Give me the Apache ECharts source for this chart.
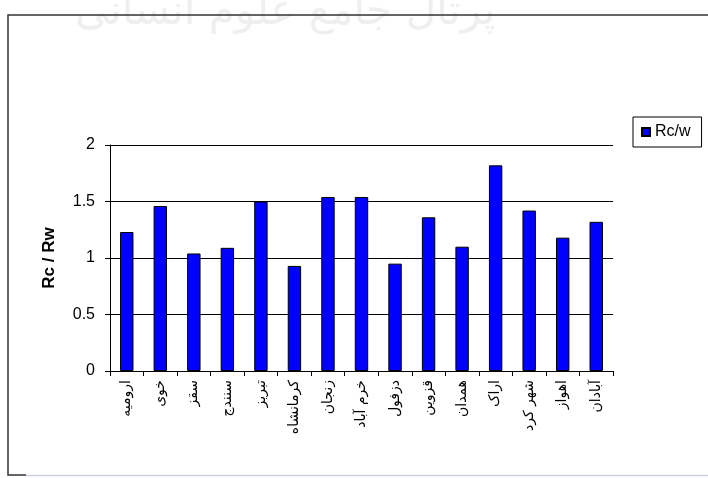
<!DOCTYPE html>
<html>
<head>
<meta charset="utf-8">
<title>Rc / Rw</title>
<script src="https://cdn.jsdelivr.net/npm/echarts@6.0.0/dist/echarts.min.js"></script>
<style>
  html, body { margin: 0; padding: 0; background: #fff; }
  #main { width: 708px; height: 478px; }
</style>
</head>
<body>
<div id="main"></div>
<script>
// شهرها
let cities = ["ارومیه", "خوی", "سقز", "سنندج", "تبریز", "کرمانشاه", "زنجان", "خرم آباد",
        "دزفول", "قزوین", "همدان", "اراک", "شهر کرد", "اهواز", "آبادان"];
// Rc/w
let ratios = [1.23, 1.46, 1.04, 1.09, 1.50, 0.93, 1.54, 1.54, 0.95, 1.36, 1.10, 1.82, 1.42, 1.18, 1.32];
let yMin = 0, yMax = 2, yStep = 0.5;

let option = {
        animation: false,
        backgroundColor: '#fff',
        grid: {
                left: 110,
                top: 145,
                right: 95,
                bottom: 107
        },
        legend: {
                data: ['Rc/w'],
                left: 633,
                top: 117,
                orient: 'vertical',
                icon: 'rect',
                itemWidth: 8,
                itemHeight: 8,
                itemGap: 4,
                padding: [7, 11, 7, 8],
                borderColor: '#000',
                borderWidth: 1,
                textStyle: {
                        color: '#000',
                        fontSize: 16,
                        fontFamily: 'Liberation Sans'
                }
        },
        // watermark of the scanned page + frame
        graphic: [{
                type: 'text',
                left: 75,
                top: -8,
                silent: true,
                style: {
                        text: 'پرتال جامع علوم انسانی',
                        fill: '#efefef',
                        font: '42px "DejaVu Sans"'
                }
        }, {
                type: 'polyline',
                silent: true,
                shape: { points: [[720, 15], [8, 15], [8, 475], [26, 475]] },
                style: { stroke: '#333', lineWidth: 1.5, fill: null }
        }, {
                type: 'line',
                silent: true,
                shape: { x1: 26, y1: 475.5, x2: 708, y2: 475.5 },
                style: { stroke: '#c9d1dd', lineWidth: 1.5 }
        }],
        xAxis: [{
                type: 'category',
                data: cities,
                axisLine: {
                        lineStyle: { color: '#000', width: 1 }
                },
                axisTick: {
                        show: true,
                        length: 5,
                        lineStyle: { color: '#000' }
                },
                axisLabel: {
                        interval: 0,
                        rotate: 90,
                        margin: 9,
                        color: '#000',
                        fontSize: 14,
                        fontFamily: 'DejaVu Sans'
                }
        }],
        yAxis: [{
                type: 'value',
                min: yMin,
                max: yMax,
                interval: yStep,
                name: 'Rc / Rw',
                nameLocation: 'middle',
                nameGap: 52,
                nameTextStyle: {
                        color: '#000',
                        fontSize: 17,
                        fontWeight: 'bold',
                        fontFamily: 'Liberation Sans'
                },
                axisLine: {
                        show: true,
                        lineStyle: { color: '#000', width: 1 }
                },
                axisTick: {
                        show: true,
                        length: 5,
                        lineStyle: { color: '#000' }
                },
                splitLine: {
                        show: true,
                        lineStyle: { color: '#000', width: 1 }
                },
                axisLabel: {
                        margin: 15,
                        color: '#000',
                        fontSize: 16,
                        fontFamily: 'Liberation Sans'
                }
        }],
        series: [{
                name: 'Rc/w',
                type: 'bar',
                barWidth: '40%',
                itemStyle: {
                        color: '#0000ff',
                        borderColor: '#000',
                        borderWidth: 1
                },
                data: ratios
        }]
};

let chart = echarts.init(document.getElementById('main'), null, { renderer: 'canvas' });
chart.setOption(option);
</script>
</body>
</html>
